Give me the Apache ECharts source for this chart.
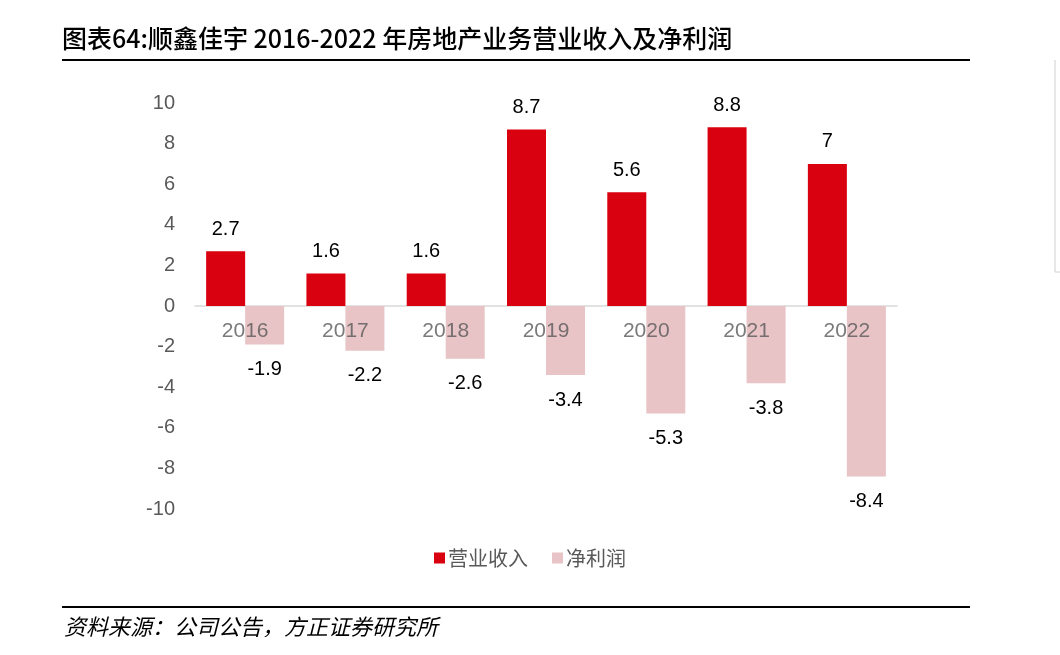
<!DOCTYPE html>
<html><head><meta charset="utf-8">
<script src="https://cdn.jsdelivr.net/npm/echarts@6/dist/echarts.min.js"></script>
<style>html,body{margin:0;padding:0;background:#fff}#c{width:1060px;height:655px}</style>
</head><body><div id="c"></div>
<script>
const categories = ['2016','2017','2018','2019','2020','2021','2022'];
const revenue = [2.7, 1.6, 1.6, 8.7, 5.6, 8.8, 7];
const netProfit = [-1.9, -2.2, -2.6, -3.4, -5.3, -3.8, -8.4];
const yTicks = [-10, 10, 2];
const seriesNames = ['营业收入', '净利润'];
const zeroLine = categories.map(() => 0);

const chart = echarts.init(document.getElementById('c'));
const numFont = 'Arial, "Liberation Sans", sans-serif';
chart.setOption({
  animation: false,
  graphic: [
    {type:'text', left:62, top:26, style:{text:'图表64:顺鑫佳宇 2016-2022 年房地产业务营业收入及净利润', font:'500 25px "Noto Sans CJK SC"', fill:'#000'}},
    {type:'rect', shape:{x:62, y:59, width:908, height:2}, style:{fill:'#000'}},
    {type:'rect', shape:{x:62, y:606, width:908, height:2}, style:{fill:'#000'}},
    {type:'text', left:64, top:616, style:{text:'资料来源：公司公告，方正证券研究所', font:'italic 22px "Noto Sans CJK SC"', fill:'#000'}},
    {type:'polyline', shape:{points:[[1055,60],[1055,272],[1060,272]]}, style:{stroke:'#d0d0d0', lineWidth:1, fill:null}}
  ],
  legend: {
    data: seriesNames, top: 543, left: 'center', icon: 'rect', itemWidth: 11, itemHeight: 11, itemGap: 24,
    textStyle: {fontSize: 20, color: '#595959', fontFamily: '"Noto Sans CJK SC"', padding: [0,0,0,-2]}
  },
  grid: {left: 195, right: 163, top: 103, bottom: 146},
  xAxis: {
    type: 'category', data: categories,
    axisLine: {onZero: true, lineStyle: {color: '#d9d9d9', width: 1.5}},
    axisTick: {show: false},
    axisLabel: {show: false}
  },
  yAxis: {
    type: 'value', min: yTicks[0], max: yTicks[1], interval: yTicks[2],
    splitLine: {show: false}, axisLine: {show: false}, axisTick: {show: false},
    axisLabel: {color: '#595959', fontSize: 20, margin: 20, fontFamily: numFont}
  },
  series: [
    {name: seriesNames[0], type: 'bar', data: revenue, barWidth: 39, barGap: '0%',
     itemStyle: {color: '#D9000F'},
     label: {show: true, position: 'top', distance: 12, fontSize: 20, color: '#000', fontFamily: numFont}},
    {name: seriesNames[1], type: 'bar', data: netProfit, barWidth: 39,
     itemStyle: {color: '#E8C4C6'},
     label: {show: true, position: 'bottom', distance: 15, fontSize: 20, color: '#000', fontFamily: numFont}},
    {name: 'cat', type: 'scatter', data: zeroLine, symbolSize: 0, z: 10, silent: true,
     label: {show: true, position: 'bottom', distance: 15, formatter: '{b}', fontSize: 21, color: '#595959', fontFamily: numFont}}
  ]
});
</script></body></html>
